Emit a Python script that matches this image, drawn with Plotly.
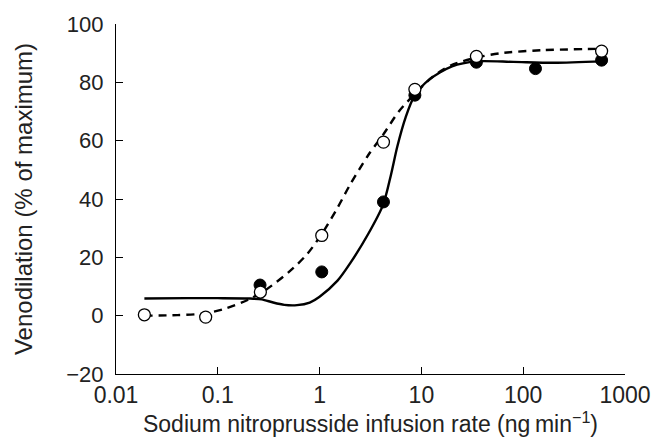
import plotly.graph_objects as go

open_x = [0.019, 0.076, 0.262, 1.05, 4.24, 8.63, 34.7, 589]
open_y = [0.3, -0.5, 8.1, 27.5, 59.5, 77.6, 88.9, 90.7]
filled_x = [0.26, 1.05, 4.24, 8.63, 34.7, 132, 589]
filled_y = [10.5, 15.0, 39.0, 75.6, 86.9, 84.7, 87.6]

# Fitted curves
dash_x = [0.019, 0.04, 0.076, 0.12, 0.2, 0.3, 0.5, 0.75, 1.05, 1.5, 2.0, 3.0, 4.2, 6.0, 8.6, 13, 20, 35, 60, 150, 600]
dash_y = [0.0, 0.2, 0.8, 2.5, 5.5, 9.0, 15.0, 21.0, 28.0, 37.0, 45.0, 55.0, 62.0, 70.0, 76.0, 82.0, 86.0, 88.5, 90.0, 91.0, 91.5]
solid_x = [0.019, 0.05, 0.1, 0.2, 0.27, 0.35, 0.45, 0.6, 0.8, 1.0, 1.5, 2.0, 3.0, 4.2, 5.0, 5.8, 7.0, 8.6, 12, 20, 35, 80, 200, 600]
solid_y = [5.9, 6.0, 6.0, 5.9, 5.6, 4.5, 3.7, 3.6, 4.5, 6.5, 12.0, 18.0, 28.0, 38.0, 48.0, 58.0, 68.0, 75.5, 81.0, 85.5, 87.2, 87.0, 86.7, 87.2]

x_ticks = [0.01, 0.1, 1, 10, 100, 1000]
x_labels = ["0.01", "0.1", "1", "10", "100", "1000"]
y_ticks = [-20, 0, 20, 40, 60, 80, 100]
y_labels = ["\u221220", "0", "20", "40", "60", "80", "100"]

FONT = "Liberation Sans, Arial, sans-serif"

fig = go.Figure()
fig.add_trace(go.Scatter(x=solid_x, y=solid_y, mode="lines",
                         line=dict(color="black", width=2.4, shape="spline", smoothing=0.8),
                         showlegend=False, hoverinfo="skip"))
fig.add_trace(go.Scatter(x=dash_x, y=dash_y, mode="lines",
                         line=dict(color="black", width=2.4, dash="8px,6px", shape="spline", smoothing=0.8),
                         showlegend=False, hoverinfo="skip"))
fig.add_trace(go.Scatter(x=filled_x, y=filled_y, mode="markers",
                         marker=dict(size=12, color="black", line=dict(color="black", width=1)),
                         showlegend=False))
fig.add_trace(go.Scatter(x=open_x, y=open_y, mode="markers",
                         marker=dict(size=12, color="white", line=dict(color="black", width=1.3)),
                         showlegend=False))

fig.update_layout(
    width=663, height=446,
    margin=dict(l=116, r=34, t=20, b=72),
    paper_bgcolor="white", plot_bgcolor="white",
    font=dict(family=FONT, size=23, color="#222222"),
    showlegend=False,
)
fig.update_xaxes(
    type="log", range=[-2, 3],
    tickvals=x_ticks, ticktext=x_labels,
    ticks="inside", ticklen=7, tickwidth=1.2, tickcolor="black",
    showline=True, linecolor="black", linewidth=1.2,
    showgrid=False, zeroline=False,
    tickfont=dict(size=23),
    title=dict(text="Sodium nitroprusside infusion rate (ng\u2009min<sup>\u22121</sup>)",
               font=dict(size=23), standoff=9),
)
fig.update_yaxes(
    range=[-20, 100],
    tickvals=y_ticks, ticktext=y_labels,
    ticks="inside", ticklen=7, tickwidth=1.2, tickcolor="black",
    showline=True, linecolor="black", linewidth=1.2,
    showgrid=False, zeroline=False,
    tickfont=dict(size=22), ticklabelstandoff=7,
    title=dict(text="Venodilation (% of maximum)", font=dict(size=24), standoff=26),
)

fig.write_html("out.html", config={"displayModeBar": False},
               post_script="document.body.style.margin='0';")
